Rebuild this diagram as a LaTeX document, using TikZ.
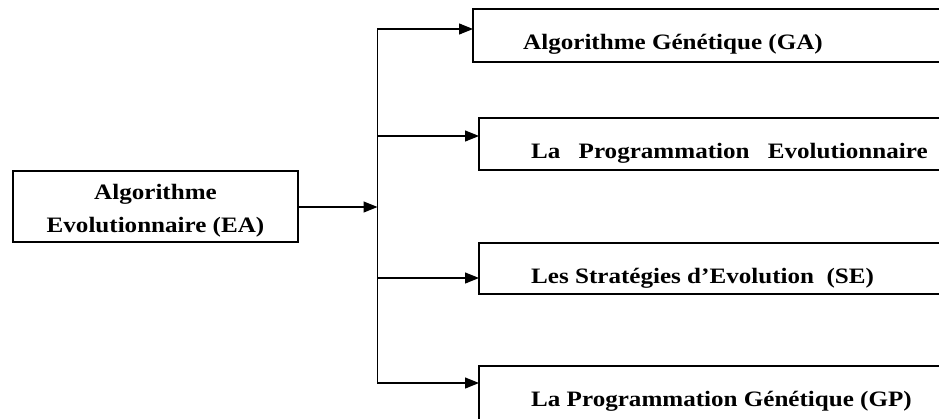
\documentclass[tikz,border=0pt]{standalone}
\usepackage{fontspec}
\setmainfont{Liberation Serif}
\usetikzlibrary{arrows.meta}
% slightly widened bold labels
\newcommand\lbl[1]{\scalebox{1.14}[1]{#1}}
\begin{document}
\begin{tikzpicture}[x=1pt,y=-1pt,
  box/.style={draw, line width=1.3pt, anchor=north west, inner sep=0pt, outer sep=0pt},
  conn/.style={line width=1.2pt, -{Triangle[length=14pt,width=11pt]}},
  txt/.style={inner sep=0pt, font=\fontsize{22}{26}\selectfont\bfseries}]
  \useasboundingbox (0,0) rectangle (939,418);
  \clip (0,0) rectangle (939,418);

  % boxes
  \node[box, minimum width=285pt, minimum height=71pt] (ea) at (13,171) {};
  \node[box, minimum width=520pt, minimum height=53pt] (ga) at (473,9) {};
  \node[box, minimum width=520pt, minimum height=52pt] (pe) at (479,118) {};
  \node[box, minimum width=520pt, minimum height=51pt] (se) at (479,243) {};
  \node[box, minimum width=520pt, minimum height=90pt] (gp) at (479,366) {};

  % labels
  \node[txt, anchor=base] (ea1) at (155.5,199) {\lbl{Algorithme}};
  \node[txt, anchor=base] (ea2) at (155.5,232) {\lbl{Evolutionnaire (EA)}};
  \node[txt, anchor=base west] (gat) at (523,49) {\lbl{Algorithme Génétique (GA)}};
  \node[txt, anchor=base west] (pet) at (531,158) {\lbl{La\hspace{16pt}Programmation\hspace{16pt}Evolutionnaire}};
  \node[txt, anchor=base west] (set) at (531,283) {\lbl{Les Stratégies d’Evolution~ (SE)}};
  \node[txt, anchor=base west] (gpt) at (531,406) {\lbl{La Programmation Génétique (GP)}};

  % trunk points
  \coordinate (jn) at (377.5,207);
  \coordinate (t1) at (377.5,29);
  \coordinate (t2) at (377.5,136);
  \coordinate (t3) at (377.5,278);
  \coordinate (t4) at (377.5,383);

  % connectors
  \draw[conn] (ea.east |- jn) -- (jn);
  \draw[conn] (t4) -- (t1) -- (t1 -| ga.west);
  \draw[conn] (t1) -- (t4) -- (t4 -| gp.west);
  \draw[conn] (t2) -- (t2 -| pe.west);
  \draw[conn] (t3) -- (t3 -| se.west);
\end{tikzpicture}
\end{document}
